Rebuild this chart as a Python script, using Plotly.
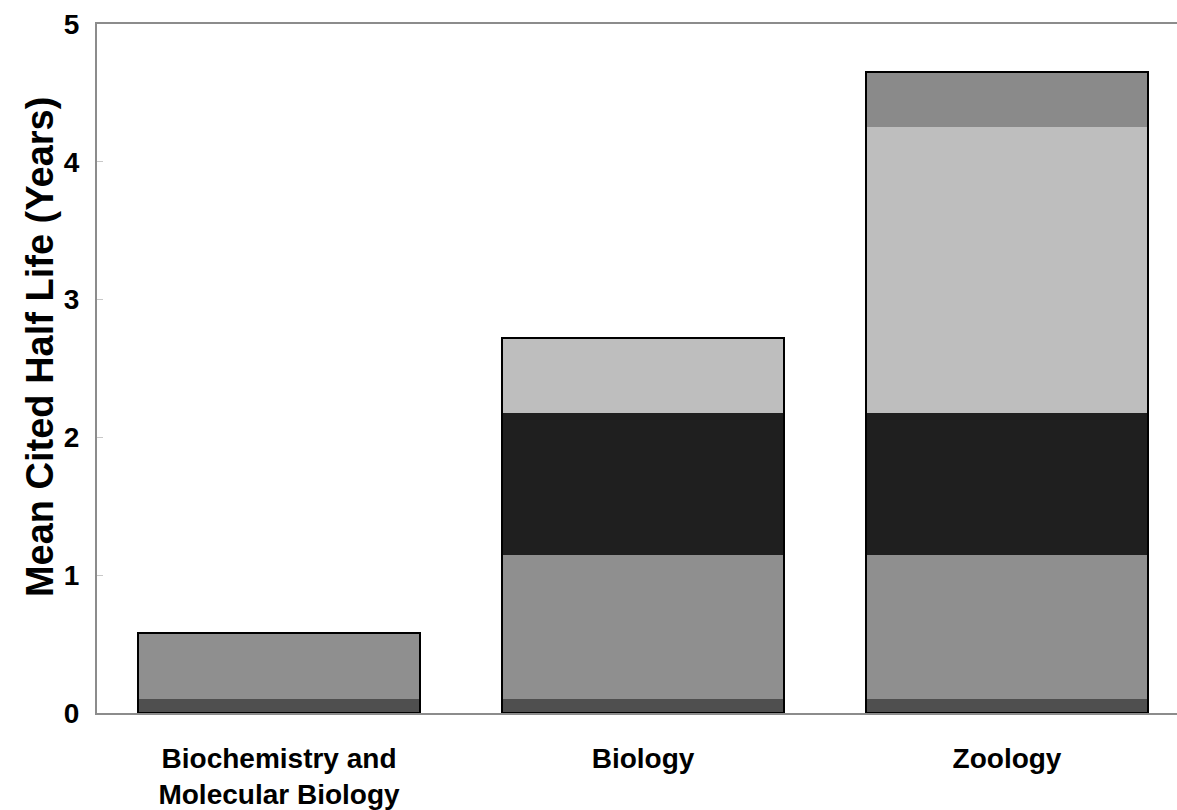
import plotly.graph_objects as go

categories = ["Biochemistry and<br>Molecular Biology", "Biology", "Zoology"]

# stacked segment heights (years), bottom to top
seg_base = [0.10, 0.10, 0.10]
seg_grey = [0.48, 1.05, 1.05]
seg_black = [0.0, 1.03, 1.03]
seg_light = [0.0, 0.54, 2.07]
seg_top = [0.0, 0.0, 0.40]

series = [
    ("Base", seg_base, "#4f4f4f"),
    ("Grey", seg_grey, "#8f8f8f"),
    ("Black", seg_black, "#1f1f1f"),
    ("Light", seg_light, "#bebebe"),
    ("Top", seg_top, "#8a8a8a"),
]

totals = [sum(v) for v in zip(seg_base, seg_grey, seg_black, seg_light, seg_top)]

BAR_W = 0.775
X_RANGE = [-0.5, 2.467]
fig = go.Figure()
for name, vals, col in series:
    fig.add_trace(go.Bar(x=categories, y=vals, name=name, width=BAR_W,
                         marker=dict(color=col, line=dict(width=0)),
                         showlegend=False, hoverinfo="y"))

# outline around full stacks
fig.add_trace(go.Bar(x=categories, y=totals, width=BAR_W, xaxis="x2",
                     marker=dict(color="rgba(0,0,0,0)", line=dict(color="#000000", width=2)),
                     showlegend=False, hoverinfo="skip"))

font_family = "Liberation Sans, Arial, sans-serif"
fig.update_layout(
    barmode="stack",
    width=1177, height=810,
    margin=dict(l=97, r=0, t=24, b=97),
    paper_bgcolor="white", plot_bgcolor="white",
    font=dict(family=font_family, color="black"),
    xaxis=dict(range=X_RANGE, showline=True, linecolor="#8c8c8c", linewidth=2,
               mirror=True, showgrid=False, zeroline=False, ticks="",
               automargin=False, ticklabelstandoff=19,
               tickfont=dict(size=28, family=font_family, weight="bold")),
    xaxis2=dict(range=X_RANGE, overlaying="x", visible=False, matches=None,
                automargin=False),
    yaxis=dict(range=[0, 5], dtick=1, showline=True, linecolor="#8c8c8c", linewidth=2,
               showgrid=False, zeroline=False, ticks="inside", ticklen=6,
               tickcolor="#c8c8c8", tickwidth=1, ticklabelstandoff=10,
               automargin=False,
               tickfont=dict(size=28, family=font_family, weight="bold")),
    annotations=[dict(text="<b>Mean Cited Half Life (Years)</b>", textangle=-90,
                      xref="paper", yref="paper", x=-0.0528, y=0.531,
                      xanchor="center", yanchor="middle", showarrow=False,
                      font=dict(size=38, family=font_family, color="black"))],
)

fig.write_html("out.html", config={"displayModeBar": False},
               post_script="document.body.style.margin='0';document.body.style.overflow='hidden';")
